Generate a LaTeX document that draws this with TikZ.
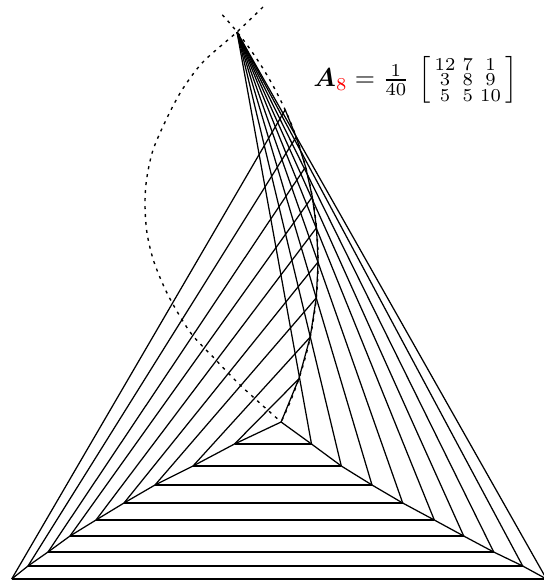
\documentclass[tikz,border=0pt]{standalone}
\usepackage{amsmath,amssymb,bm}
\usepackage{xcolor}
\begin{document}
\begin{tikzpicture}[x=0.4pt,y=-0.4pt,
  edge/.style={line width=0.5pt, line join=round},
  dotarc/.style={line width=0.55pt, dash pattern=on 1.2pt off 2pt}]
\useasboundingbox (0,0) rectangle (544,580);
% apex and limit point
\coordinate (P) at (237,32);
\coordinate (X) at (281.1,422);
% left vertices
\coordinate (L0) at (11.7,579);
\coordinate (L1) at (28,566);
\coordinate (L2) at (48,552);
\coordinate (L3) at (70,536);
\coordinate (L4) at (96,520);
\coordinate (L5) at (124,503);
\coordinate (L6) at (155,485);
\coordinate (L7) at (193,466);
\coordinate (L8) at (234.5,444);
% right vertices
\coordinate (R0) at (546.5,579);
\coordinate (R1) at (522.7,566);
\coordinate (R2) at (493.7,552);
\coordinate (R3) at (463.7,536);
\coordinate (R4) at (434.3,520);
\coordinate (R5) at (402.7,503);
\coordinate (R6) at (372,485);
\coordinate (R7) at (341.3,466);
\coordinate (R8) at (311.5,444);
% inner vertices on the right arc
\coordinate (Cm1) at (285.2,109.8);
\coordinate (C0) at (296.2,137.0);
\coordinate (C1) at (305.6,166.9);
\coordinate (C2) at (312.3,196.8);
\coordinate (C3) at (316.5,227.8);
\coordinate (C4) at (318.1,262.0);
\coordinate (C5) at (316.3,297.9);
\coordinate (C6) at (310.2,337.1);
\coordinate (C7) at (298.8,378.9);
% dotted curves
\draw[dotarc] plot[domain=-42.4:26,samples=80] ({-47.9+366*cos(\x)},{261.6+366*sin(\x)});
\draw[dotarc] plot[smooth] coordinates {(263,7) (237,32) (203,62) (182,90) (167,118) (153,150) (146.5,180) (145,205) (147,233) (154,262) (168,295) (190,332) (214,358) (238,383) (262,405) (281.1,422)};
% horizontal bases
\foreach \k in {0,...,8} \draw[edge] (L\k) -- (R\k);
% chains
\draw[edge] (L0) -- (L1) -- (L2) -- (L3) -- (L4) -- (L5) -- (L6) -- (L7) -- (L8) -- (X);
\draw[edge] (R0) -- (R1) -- (R2) -- (R3) -- (R4) -- (R5) -- (R6) -- (R7) -- (R8) -- (X);
\draw[edge] (Cm1) -- (C0) -- (C1) -- (C2) -- (C3) -- (C4) -- (C5) -- (C6) -- (C7) -- (X);
% lines to the apex
\foreach \k in {0,...,8} \draw[edge] (R\k) -- (P);
% lines from left vertices to the inner chain
\foreach \k/\c in {0/m1,1/0,2/1,3/2,4/3,5/4,6/5,7/6,8/7} \draw[edge] (L\k) -- (C\c);
% formula
\node[scale=1.04] (eq) at (415.5,80) {$\boldsymbol{A}_{\textcolor{red}{8}} = \frac{1}{40}\,\left[\begin{smallmatrix}12&7&1\\3&8&9\\5&5&10\end{smallmatrix}\right]$};
\end{tikzpicture}
\end{document}
